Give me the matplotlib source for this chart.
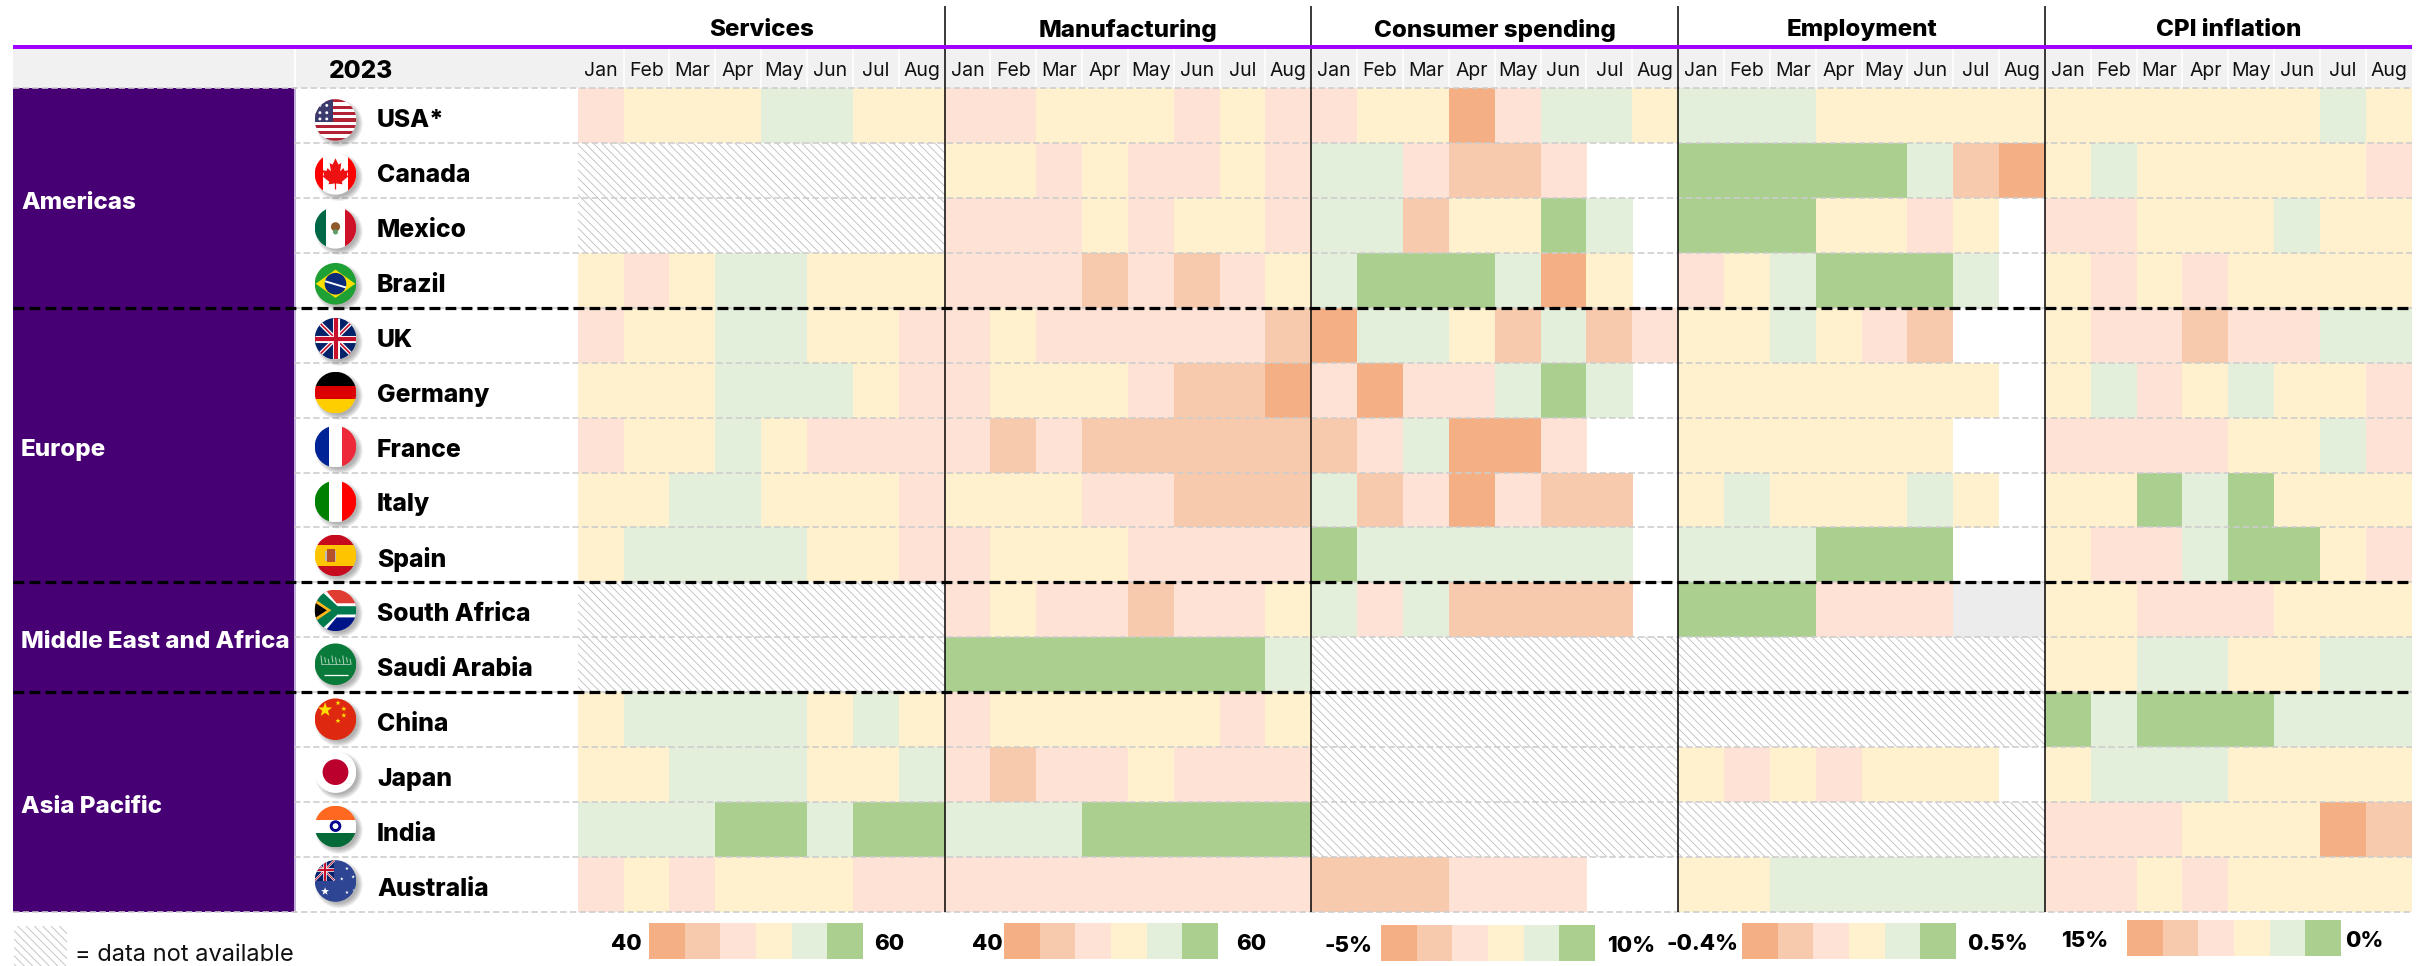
import numpy as np
import matplotlib
matplotlib.use("Agg")
import matplotlib.pyplot as plt
from matplotlib.patches import Circle, Rectangle, Polygon

plt.rcParams['font.family'] = ['Inter', 'DejaVu Sans']
plt.rcParams['hatch.linewidth'] = 0.6

# ---------- data ----------
# heat levels: 1 orange .. 6 green; 0 blank; 7 grey; 9 data not available
MONTHS = ["Jan", "Feb", "Mar", "Apr", "May", "Jun", "Jul", "Aug"]
COUNTRIES = ["USA*", "Canada", "Mexico", "Brazil", "UK", "Germany", "France", "Italy", "Spain",
             "South Africa", "Saudi Arabia", "China", "Japan", "India", "Australia"]
REGIONS = ["Americas", "Europe", "Middle East and Africa", "Asia Pacific"]
REGION_SIZES = [4, 5, 2, 4]
PANELS = ["Services", "Manufacturing", "Consumer spending", "Employment", "CPI inflation"]

SERVICES = [
    [3,4,4,4,5,5,4,4], [9]*8, [9]*8, [4,3,4,5,5,4,4,4],
    [3,4,4,5,5,4,4,3], [4,4,4,5,5,5,4,3], [3,4,4,5,4,3,3,3], [4,4,5,5,4,4,4,3], [4,5,5,5,5,4,4,3],
    [9]*8, [9]*8,
    [4,5,5,5,5,4,5,4], [4,4,5,5,5,4,4,5], [5,5,5,6,6,5,6,6], [3,4,3,4,4,4,3,3]]
MANUFACTURING = [
    [3,3,4,4,4,3,4,3], [4,4,3,4,3,3,4,3], [3,3,3,4,3,4,4,3], [3,3,3,2,3,2,3,4],
    [3,4,3,3,3,3,3,2], [3,4,4,4,3,2,2,1], [3,2,3,2,2,2,2,2], [4,4,4,3,3,2,2,2], [3,4,4,4,3,3,3,3],
    [3,4,3,3,2,3,3,4], [6,6,6,6,6,6,6,5],
    [3,4,4,4,4,4,3,4], [3,2,3,3,4,3,3,3], [5,5,5,6,6,6,6,6], [3,3,3,3,3,3,3,3]]
CONSUMER = [
    [3,4,4,1,3,5,5,4], [5,5,3,2,2,3,0,0], [5,5,2,4,4,6,5,0], [5,6,6,6,5,1,4,0],
    [1,5,5,4,2,5,2,3], [3,1,3,3,5,6,5,0], [2,3,5,1,1,3,0,0], [5,2,3,1,3,2,2,0], [6,5,5,5,5,5,5,0],
    [5,3,5,2,2,2,2,0], [9]*8,
    [9]*8, [9]*8, [9]*8, [2,2,2,3,3,3,0,0]]
EMPLOYMENT = [
    [5,5,5,4,4,4,4,4], [6,6,6,6,6,5,2,1], [6,6,6,4,4,3,4,0], [3,4,5,6,6,6,5,0],
    [4,4,5,4,3,2,0,0], [4,4,4,4,4,4,4,0], [4,4,4,4,4,4,0,0], [4,5,4,4,4,5,4,0], [5,5,5,6,6,6,0,0],
    [6,6,6,3,3,3,7,7], [9]*8,
    [9]*8, [4,3,4,3,4,4,4,0], [9]*8, [4,4,5,5,5,5,5,5]]
CPI = [
    [4,4,4,4,4,4,5,4], [4,5,4,4,4,4,4,3], [3,3,4,4,4,5,4,4], [4,3,4,3,4,4,4,4],
    [4,3,3,2,3,3,5,5], [4,5,3,4,5,4,4,3], [3,3,3,3,4,4,5,3], [4,4,6,5,6,4,4,4], [4,3,3,5,6,6,4,3],
    [4,4,3,3,3,4,4,4], [4,4,5,5,4,4,5,5],
    [6,5,6,6,6,5,5,5], [4,5,5,5,4,4,4,4], [3,3,3,4,4,4,1,2], [3,3,4,3,4,4,4,4]]
GRIDS = [SERVICES, MANUFACTURING, CONSUMER, EMPLOYMENT, CPI]
LEGEND_LOW = ["40", "40", "-5%", "-0.4%", "15%"]
LEGEND_HIGH = ["60", "60", "10%", "0.5%", "0%"]

# ---------- styles / layout (pixels) ----------
COL = {1: "#F4AF84", 2: "#F8CAAD", 3: "#FDE2D5", 4: "#FFF0CE", 5: "#E3EEDB", 6: "#ABCF8F", 7: "#ECECEC"}
PURPLE = "#A100FF"; DARK = "#460073"; HEAD = "#F1F1F1"; HATCH = "#BDBDBD"
BOLD = 800
W, H = 2433, 966
L0, L1, L2, R = 13, 294, 577.7, 2411.7
ROW0, ROWH = 88, 54.93
NROW = len(COUNTRIES)
CW = (R - L2) / 40
BOT = ROW0 + ROWH * NROW
FLAG_X = 335.5; FLAG_R = 20.8
FLAG_DY = [4.5, 3.5, 2.5, 3.5, 3.5, 2.5, 1.5, 1.5, 0.5, 0.5, -0.5, -0.5, -2.5, -3, -3.5]
LEG_Y = [(923, 959), (923, 959), (925, 961), (923, 959), (920, 956)]
LEG_X = [(649, 863), (1004, 1218), (1381, 1595), (1742, 1956), (2127, 2341)]
LEG_LOWX = [626, 987, 1349, 1703, 2085]
LEG_HIGHX = [889, 1251, 1631, 1998, 2364]

fig = plt.figure(figsize=(W / 100, H / 100), dpi=100)
ax = fig.add_axes([0, 0, 1, 1])
ax.set_xlim(0, W); ax.set_ylim(H, 0); ax.axis("off")
px = 0.72  # points per pixel


def box(x0, y0, x1, y1, color, z=1, **kw):
    ax.bar(x0, y1 - y0, x1 - x0, y0, align="edge", color=color, linewidth=0, zorder=z, **kw)


def hatched(x0, y0, x1, y1, z=1):
    ax.bar(x0, y1 - y0, x1 - x0, y0, align="edge", color="white", edgecolor=HATCH,
           hatch="\\\\\\\\", linewidth=0, zorder=z)


# header
box(L0, 49, L1, ROW0, HEAD)
box(L1 + 2, 49, R, ROW0, HEAD)
for p in range(5):
    x0 = L2 + p * 8 * CW
    for m, name in enumerate(MONTHS):
        ax.text(x0 + (m + .5) * CW, 70.5, name, ha="center", va="center", fontsize=14, color="#111111", zorder=6)
        if m:
            ax.plot([x0 + m * CW] * 2, [49, ROW0], color="white", lw=1.5 * px, zorder=2)
    ax.text(x0 + 4 * CW, 30, PANELS[p], ha="center", va="center", fontsize=17.4, fontweight=BOLD, zorder=6)
ax.text(361, 71, "2023", ha="center", va="center", fontsize=17.6, fontweight=BOLD, zorder=6)

# heat cells
for p, grid in enumerate(GRIDS):
    x0 = L2 + p * 8 * CW
    for r, row in enumerate(grid):
        y = ROW0 + r * ROWH
        for m, v in enumerate(row):
            if v == 9:
                hatched(x0 + m * CW, y, x0 + (m + 1) * CW + .3, y + ROWH + .3)
            elif v:
                box(x0 + m * CW, y, x0 + (m + 1) * CW + .3, y + ROWH + .3, COL[v])

# regions
box(L0, ROW0, L1, BOT, DARK)
ax.plot([L1 + 1, L1 + 1], [ROW0, BOT], color="#C4B3D9", lw=2 * px, zorder=2)
r0 = 0
for name, n in zip(REGIONS, REGION_SIZES):
    ax.text(21, ROW0 + (r0 + n / 2) * ROWH + 5, name, color="white", ha="left", va="center",
            fontsize=17.4, fontweight=BOLD, zorder=6)
    r0 += n

# rules
for i in range(NROW + 1):
    y = ROW0 + i * ROWH
    x = L0 if i in (0, NROW) else L1
    ax.plot([x, R], [y, y], color="#CDCDCD", lw=1.6 * px, ls=(0, (4, 2)), zorder=3, dash_capstyle="butt")
for x in [L2 + k * 8 * CW for k in range(1, 5)]:
    ax.plot([x, x], [6, BOT], color="black", lw=1.5 * px, zorder=4, solid_capstyle="butt")
box(L0, 44.5, R, 48.5, PURPLE, z=5)
r0 = 0
for n in REGION_SIZES[:-1]:
    r0 += n
    y = ROW0 + r0 * ROWH
    ax.plot([L0, R], [y, y], color="black", lw=3.2 * px, ls=(0, (3.4, 1.6)), zorder=7, dash_capstyle="butt")

# country labels
for r, name in enumerate(COUNTRIES):
    ax.text(377, ROW0 + (r + .5) * ROWH + 5, name, ha="left", va="center", fontsize=17.8, fontweight=BOLD, zorder=6)


# ---------- flags ----------
def star(cx, cy, r, rot=0):
    a = np.deg2rad(np.arange(10) * 36 - 90 + rot)
    rr = np.where(np.arange(10) % 2 == 0, r, r * .4)
    return np.c_[cx + rr * np.cos(a), cy + rr * np.sin(a)]


class Flag:
    def __init__(self, cx, cy, r):
        self.cx, self.cy, self.r = cx, cy, r
        for k in range(10):
            ax.add_patch(Circle((cx + 3.5, cy + 3.5), r + 3 - k * .6, fc="#555555", ec="none", alpha=.055, zorder=8))
        self.clip = Circle((cx, cy), r, transform=ax.transData)
        self.z = 9

    def _add(self, art):
        self.z += .01
        art.set_zorder(self.z)
        art.set_clip_path(self.clip)

    def rect(self, x0, y0, x1, y1, c):
        p = Rectangle((self.cx + x0 * self.r, self.cy + y0 * self.r), (x1 - x0) * self.r, (y1 - y0) * self.r,
                      fc=c, ec="none")
        ax.add_patch(p); self._add(p)

    def poly(self, pts, c):
        pts = np.asarray(pts, float)
        p = Polygon(np.c_[self.cx + pts[:, 0] * self.r, self.cy + pts[:, 1] * self.r], fc=c, ec="none")
        ax.add_patch(p); self._add(p)

    def circ(self, x, y, r, c):
        p = Circle((self.cx + x * self.r, self.cy + y * self.r), r * self.r, fc=c, ec="none")
        ax.add_patch(p); self._add(p)

    def line(self, x0, y0, x1, y1, c, w):
        l, = ax.plot([self.cx + x0 * self.r, self.cx + x1 * self.r], [self.cy + y0 * self.r, self.cy + y1 * self.r],
                     color=c, lw=w * self.r * px, solid_capstyle="butt")
        self._add(l)

    def union(self, x0, y0, x1, y1, scale=1.0):
        self.rect(x0, y0, x1, y1, "#012169")
        s = scale
        self.line(x0, y0, x1, y1, "white", .2 * s); self.line(x0, y1, x1, y0, "white", .2 * s)
        self.line(x0, y0, x1, y1, "#C8102E", .08 * s); self.line(x0, y1, x1, y0, "#C8102E", .08 * s)
        xm, ym = (x0 + x1) / 2, (y0 + y1) / 2
        self.line(xm, y0, xm, y1, "white", .34 * s); self.line(x0, ym, x1, ym, "white", .34 * s)
        self.line(xm, y0, xm, y1, "#C8102E", .2 * s); self.line(x0, ym, x1, ym, "#C8102E", .2 * s)


def usa(f):
    f.rect(-1, -1, 1, 1, "white")
    for i in range(0, 13, 2):
        f.rect(-1, -1 + i * 2 / 13, 1, -1 + (i + 1) * 2 / 13, "#B22234")
    f.rect(-1, -1, -.12, .08, "#3C3B6E")
    for y in (-.7, -.35, -.05):
        for x in (-.75, -.42):
            f.circ(x, y, .07, "white")


def canada(f):
    f.rect(-1, -1, 1, 1, "white")
    f.rect(-1, -1, -.62, 1, "#FF0000"); f.rect(.62, -1, 1, 1, "#FF0000")
    leaf = [(0, -.75), (.14, -.45), (.28, -.52), (.22, -.12), (.38, -.28), (.44, -.14), (.62, -.18), (.55, .05),
            (.62, .12), (.3, .38), (.34, .5), (.03, .46), (.03, .75), (-.03, .75), (-.03, .46), (-.34, .5), (-.3, .38),
            (-.62, .12), (-.55, .05), (-.62, -.18), (-.44, -.14), (-.38, -.28), (-.22, -.12), (-.28, -.52), (-.14, -.45)]
    f.poly(leaf, "#EE1111")


def mexico(f):
    f.rect(-1, -1, 1, 1, "white")
    f.rect(-1, -1, -.48, 1, "#006847"); f.rect(.48, -1, 1, 1, "#CE1126")
    f.circ(0, -.05, .22, "#8C5A2B"); f.circ(0, .2, .12, "#5E9C6A")


def brazil(f):
    f.rect(-1, -1, 1, 1, "#1FA035")
    f.poly([(-.95, 0), (0, -.68), (.95, 0), (0, .68)], "#FEDF00")
    f.circ(0, 0, .52, "#0B2A7A")
    f.line(-.5, -.12, .5, .18, "white", .09)


def uk(f):
    f.union(-1, -1, 1, 1)


def tricolor_h(f, a, b, c):
    f.rect(-1, -1, 1, -.33, a); f.rect(-1, -.33, 1, .33, b); f.rect(-1, .33, 1, 1, c)


def tricolor_v(f, a, b, c):
    f.rect(-1, -1, -.33, 1, a); f.rect(-.33, -1, .33, 1, b); f.rect(.33, -1, 1, 1, c)


def germany(f): tricolor_h(f, "#000000", "#DD0000", "#FFCE00")
def france(f): tricolor_v(f, "#002395", "#FFFFFF", "#ED2939")
def italy(f): tricolor_v(f, "#008000", "#FFFFFF", "#FF0000")


def spain(f):
    f.rect(-1, -1, 1, -.5, "#C60B1E"); f.rect(-1, -.5, 1, .5, "#FFC400"); f.rect(-1, .5, 1, 1, "#C60B1E")
    f.rect(-.42, -.32, -.04, .32, "#B5502A"); f.rect(-.5, -.22, -.42, .28, "#BBBBBB"); f.rect(-.04, -.22, .04, .28, "#BBBBBB")


def south_africa(f):
    f.rect(-1, -1, 1, 0, "#E03C31"); f.rect(-1, 0, 1, 1, "#001489")
    f.poly([(-1, -1), (-.5, -1), (.05, -.34), (1, -.34), (1, .34), (.05, .34), (-.5, 1), (-1, 1)], "white")
    f.poly([(-1, -.85), (-.6, -.85), (.1, -.2), (1, -.2), (1, .2), (.1, .2), (-.6, .85), (-1, .85)], "#007A4D")
    f.poly([(-1, -.55), (-.2, 0), (-1, .55)], "#FFB81C")
    f.poly([(-1, -.38), (-.42, 0), (-1, .38)], "#000000")


def saudi(f):
    f.rect(-1, -1, 1, 1, "#0A7A3B")
    for i, x in enumerate(np.linspace(-.7, .7, 9)):
        f.line(x, -.42 + .08 * (i % 3), x + .05, .02 - .1 * (i % 2), "#A9D0B4", .05)
    f.line(-.72, -.02, .72, -.02, "#A9D0B4", .04)
    f.line(-.55, .52, .62, .52, "white", .06)


def china(f):
    f.rect(-1, -1, 1, 1, "#DE2910")
    f.poly(star(-.5, -.45, .36), "#FFDE00")
    for x, y in [(.12, -.78), (.4, -.5), (.4, -.18), (.12, .08)]:
        f.poly(star(x, y, .13), "#FFDE00")


def japan(f):
    f.rect(-1, -1, 1, 1, "white")
    f.circ(0, 0, .62, "#BC002D")


def india(f):
    f.rect(-1, -1, 1, -.33, "#FF6820"); f.rect(-1, -.33, 1, .33, "white"); f.rect(-1, .33, 1, 1, "#046A38")
    f.circ(0, -.02, .28, "#06038D"); f.circ(0, -.02, .14, "white")


def australia(f):
    f.rect(-1, -1, 1, 1, "#2E4593")
    f.union(-1, -1, -.05, -.02, .5)
    f.poly(star(-.5, .5, .2), "white")
    for x, y in [(.55, -.6), (.85, -.2), (.3, -.1), (.55, .55), (.9, .45)]:
        f.poly(star(x, y, .09), "white")


FLAGS = [usa, canada, mexico, brazil, uk, germany, france, italy, spain, south_africa, saudi, china, japan, india, australia]
for r, draw in enumerate(FLAGS):
    draw(Flag(FLAG_X, ROW0 + (r + .5) * ROWH + FLAG_DY[r], FLAG_R))

# ---------- legends ----------
for p in range(5):
    (x0, x1), (y0, y1) = LEG_X[p], LEG_Y[p]
    w = (x1 - x0) / 6
    for k in range(6):
        box(x0 + k * w, y0, x0 + (k + 1) * w, y1, COL[k + 1])
    ym = (y0 + y1) / 2
    for x, t in ((LEG_LOWX[p], LEGEND_LOW[p]), (LEG_HIGHX[p], LEGEND_HIGH[p])):
        ax.text(x, ym + 3, t, ha="center", va="center", fontsize=16, fontweight=BOLD)
hatched(14, 926, 67, 966)
ax.text(75, 955, "= data not available", ha="left", va="center", fontsize=17, color="#111111")

fig.savefig("out.png", dpi=100)
